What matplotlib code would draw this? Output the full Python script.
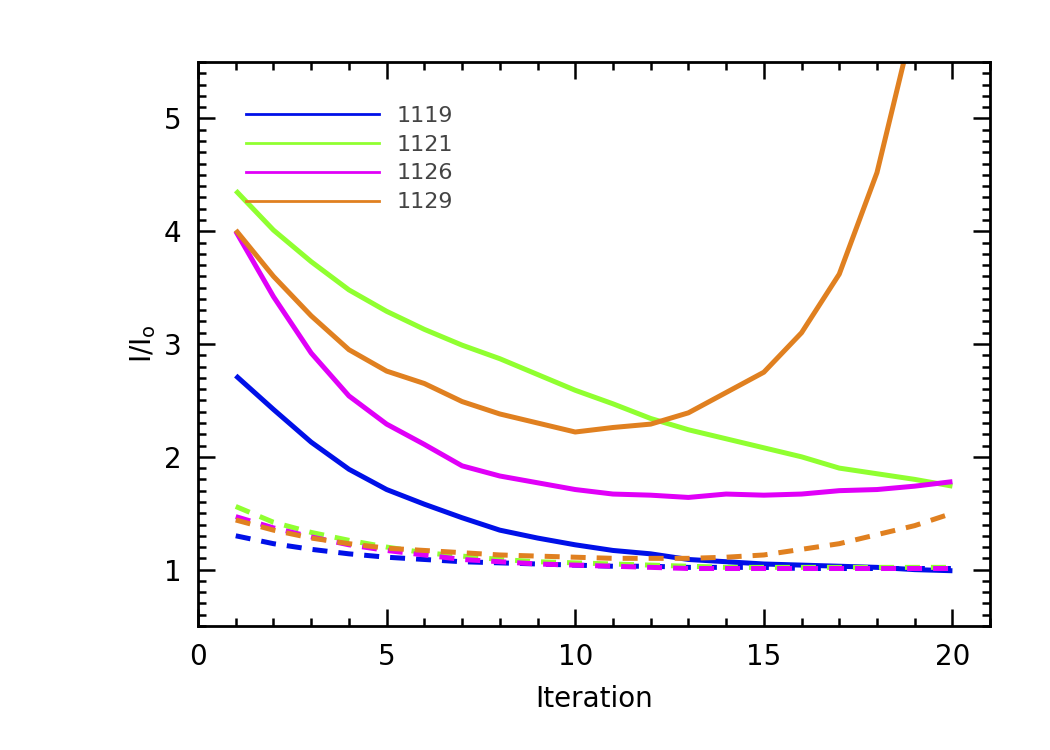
import numpy as np
import matplotlib
matplotlib.use("Agg")
import matplotlib.pyplot as plt
from matplotlib.lines import Line2D
from matplotlib.ticker import MultipleLocator

# =========================
#  Data
# =========================

iteration = np.arange(1, 21)

labels = ["1119", "1121", "1126", "1129"]
colors = ["#0010e8", "#90ff30", "#e000f8", "#e08020"]

# solid curves
solid_1119 = [2.72, 2.42, 2.13, 1.89, 1.71, 1.58, 1.46, 1.35, 1.28, 1.22,
              1.17, 1.14, 1.09, 1.07, 1.05, 1.04, 1.03, 1.02, 1.00, 0.99]
solid_1121 = [4.36, 4.01, 3.73, 3.48, 3.29, 3.13, 2.99, 2.87, 2.73, 2.59,
              2.47, 2.34, 2.24, 2.16, 2.08, 2.00, 1.90, 1.85, 1.80, 1.74]
solid_1126 = [4.00, 3.42, 2.92, 2.54, 2.29, 2.11, 1.92, 1.83, 1.77, 1.71,
              1.67, 1.66, 1.64, 1.67, 1.66, 1.67, 1.70, 1.71, 1.74, 1.78]
solid_1129 = [4.01, 3.60, 3.25, 2.95, 2.76, 2.65, 2.49, 2.38, 2.30, 2.22,
              2.26, 2.29, 2.39, 2.57, 2.75, 3.10, 3.62, 4.52, 5.90, 7.50]

# dashed curves
dash_1119 = [1.30, 1.23, 1.18, 1.14, 1.11, 1.09, 1.07, 1.06, 1.05, 1.04,
             1.03, 1.03, 1.02, 1.02, 1.02, 1.01, 1.01, 1.01, 1.01, 1.01]
dash_1121 = [1.56, 1.42, 1.33, 1.26, 1.20, 1.15, 1.12, 1.09, 1.07, 1.06,
             1.05, 1.04, 1.03, 1.02, 1.02, 1.02, 1.02, 1.02, 1.02, 1.02]
dash_1126 = [1.47, 1.37, 1.29, 1.22, 1.17, 1.13, 1.09, 1.07, 1.05, 1.04,
             1.03, 1.02, 1.01, 1.01, 1.01, 1.01, 1.01, 1.01, 1.01, 1.01]
dash_1129 = [1.44, 1.35, 1.28, 1.23, 1.19, 1.17, 1.15, 1.13, 1.12, 1.11,
             1.10, 1.10, 1.10, 1.11, 1.13, 1.18, 1.23, 1.31, 1.39, 1.50]

solids = [solid_1119, solid_1121, solid_1126, solid_1129]
dashes = [dash_1119, dash_1121, dash_1126, dash_1129]


# =========================
#  Plot
# =========================

fig = plt.figure(figsize=(10.5, 7.5), dpi=100)
ax = fig.add_axes([0.1886, 0.1653, 0.7544, 0.752])

for ys, c in zip(solids, colors):
    ax.plot(iteration, ys, color=c, lw=3.6, solid_capstyle="butt")
for ys, c in zip(dashes, colors):
    ax.plot(iteration, ys, color=c, lw=3.6, dashes=(3, 2.2), dash_capstyle="butt")

ax.set_xlim(0, 21)
ax.set_ylim(0.5, 5.5)
ax.xaxis.set_major_locator(MultipleLocator(5))
ax.xaxis.set_minor_locator(MultipleLocator(1))
ax.yaxis.set_major_locator(MultipleLocator(1))
ax.yaxis.set_minor_locator(MultipleLocator(0.1))

ax.tick_params(which="both", direction="in", top=True, right=True, width=1.8)
ax.tick_params(which="major", length=12, labelsize=20, pad=12)
ax.tick_params(which="minor", length=6)
for s in ax.spines.values():
    s.set_linewidth(2.0)

ax.set_xlabel("Iteration", fontsize=20, labelpad=10)
ax.set_ylabel(r"I/I$_\mathrm{o}$", fontsize=20, labelpad=4)

handles = [Line2D([0], [0], color=c, lw=2.0) for c in colors]
leg = ax.legend(handles, labels, loc="upper left", bbox_to_anchor=(0.035, 0.958),
                frameon=False, handlelength=6.0, handletextpad=0.8,
                labelspacing=0.4, fontsize=16)
for t in leg.get_texts():
    t.set_color("#444444")

fig.savefig("out.png", dpi=100)
